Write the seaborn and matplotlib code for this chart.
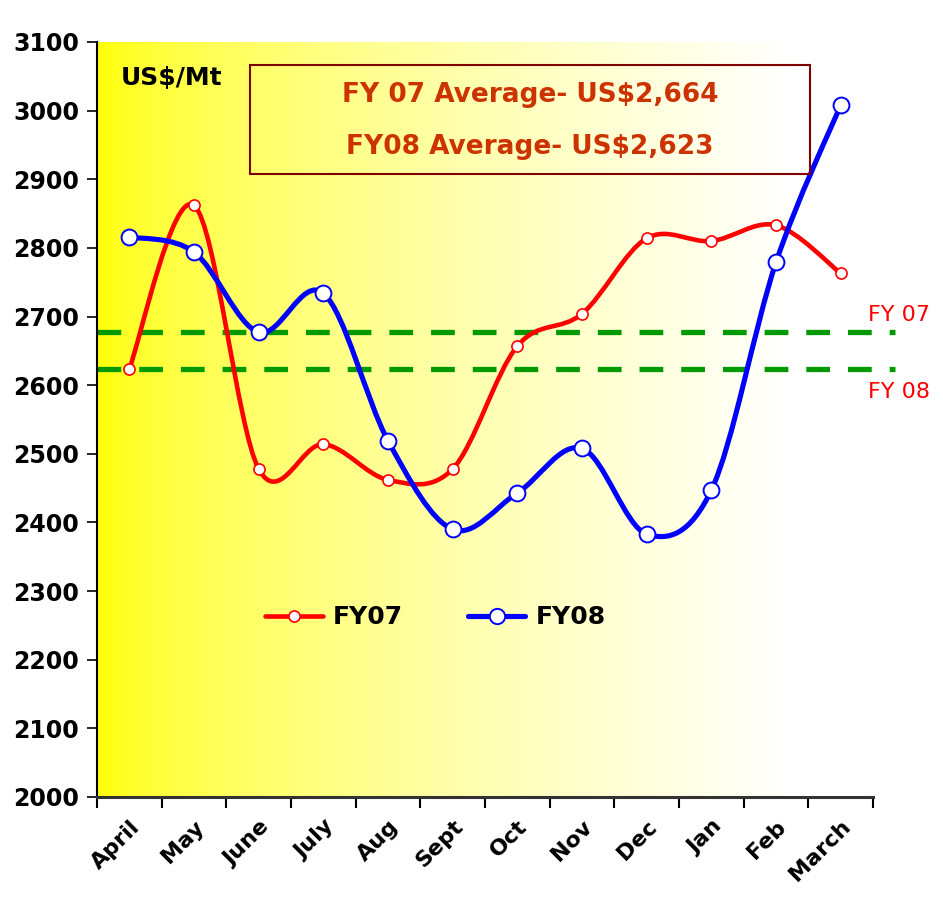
import numpy as np
import matplotlib
matplotlib.use("Agg")
import matplotlib.pyplot as plt
import seaborn as sns
import pandas as pd
from matplotlib.path import Path
from matplotlib.patches import PathPatch, Rectangle
from matplotlib.lines import Line2D

months = ['April', 'May', 'June', 'July', 'Aug', 'Sept', 'Oct', 'Nov', 'Dec', 'Jan', 'Feb', 'March']
fy07 = [2624, 2862, 2478, 2514, 2462, 2478, 2657, 2704, 2814, 2810, 2833, 2763]
fy08 = [2816, 2794, 2677, 2734, 2519, 2390, 2443, 2508, 2383, 2447, 2779, 3008]
avg_line_07 = 2678
avg_line_08 = 2623
yticks = list(range(2000, 3101, 100))

RED = '#FF0000'
BLUE = '#0000FF'
GREEN = '#009900'


def smooth_path(xs, ys):
    # excel-like smoothed line: cubic bezier segments through every point
    pts = np.column_stack([xs, ys]).astype(float)
    n = len(pts)
    verts = [pts[0]]
    codes = [Path.MOVETO]
    for i in range(n - 1):
        p_prev = pts[i - 1] if i > 0 else pts[i]
        p_next2 = pts[i + 2] if i + 2 < n else pts[i + 1]
        c1 = pts[i] + (pts[i + 1] - p_prev) / 6.0
        c2 = pts[i + 1] - (p_next2 - pts[i]) / 6.0
        verts += [c1, c2, pts[i + 1]]
        codes += [Path.CURVE4] * 3
    return Path(verts, codes)


df = pd.DataFrame({'month': months, 'pos': range(len(months)), 'FY07': fy07, 'FY08': fy08})

sns.set_style('white')
plt.rcParams['font.family'] = ['DejaVu Sans']
plt.rcParams['text.color'] = 'black'
plt.rcParams['xtick.color'] = 'black'
plt.rcParams['ytick.color'] = 'black'

fig = plt.figure(figsize=(9.43, 9.09), dpi=100)
ax = fig.add_axes([97 / 943, 1 - 797 / 909, 776 / 943, 755 / 909])

# yellow -> white background
t = np.linspace(0, 1, 400)
b = np.clip(t / 0.9, 0, 1) ** 0.6
grad = np.zeros((1, len(t), 3))
grad[..., 0] = 1
grad[..., 1] = 1
grad[..., 2] = b
ax.imshow(grad, extent=[0, 1, 0, 1], transform=ax.transAxes, aspect='auto', zorder=0)

ax.set_xlim(-0.5, len(months) - 0.5)
ax.set_ylim(2000, 3100)

# average lines
for yv in (avg_line_07, avg_line_08):
    ax.plot([-0.5, 11.84], [yv, yv], color=GREEN, lw=3.8, dashes=(4.5, 3.4), clip_on=False, zorder=2)

ax.add_patch(PathPatch(smooth_path(df['pos'], df['FY07']), facecolor='none', edgecolor=RED, lw=3.3, zorder=3,
                       capstyle='round', joinstyle='round'))
ax.add_patch(PathPatch(smooth_path(df['pos'], df['FY08']), facecolor='none', edgecolor=BLUE, lw=3.7, zorder=4,
                       capstyle='round', joinstyle='round'))

sns.scatterplot(data=df, x='pos', y='FY07', ax=ax, s=64, color='white', edgecolor=RED, linewidth=1.2, zorder=5)
sns.scatterplot(data=df, x='pos', y='FY08', ax=ax, s=130, color='white', edgecolor=BLUE, linewidth=1.4, zorder=6)

# axes styling
ax.set_xticks(range(len(months)))
ax.set_xticklabels(months, rotation=45, ha='right', rotation_mode='anchor', fontsize=16, fontweight='bold')
ax.set_xticks(np.arange(-0.5, len(months)), minor=True)
ax.tick_params(axis='x', which='major', length=0, pad=14)
ax.tick_params(axis='x', which='minor', length=8, width=1.5, direction='out', bottom=True)
ax.set_yticks(yticks)
ax.set_yticklabels([str(v) for v in yticks], fontsize=17, fontweight='bold')
ax.tick_params(axis='y', length=7, width=1.2, direction='out', left=True, pad=6)
ax.set_xlabel('')
ax.set_ylabel('')
for side in ('top', 'right'):
    ax.spines[side].set_visible(False)
ax.spines['left'].set_color('black')
ax.spines['left'].set_linewidth(1.5)
ax.spines['bottom'].set_color('#333333')
ax.spines['bottom'].set_linewidth(2.2)

# annotations
ax.text(0.03, 0.952, 'US$/Mt', transform=ax.transAxes, fontsize=18, fontweight='bold', va='center', ha='left')
ax.add_patch(Rectangle((0.197, 0.825), 0.722, 0.1445, transform=ax.transAxes, facecolor='none',
                       edgecolor='#800000', lw=1.5, zorder=7))
ax.text(0.558, 0.930, 'FY 07 Average- US$2,664', transform=ax.transAxes, fontsize=19, fontweight='bold',
        color='#CC3300', ha='center', va='center', zorder=8)
ax.text(0.558, 0.861, 'FY08 Average- US$2,623', transform=ax.transAxes, fontsize=19, fontweight='bold',
        color='#CC3300', ha='center', va='center', zorder=8)
ax.text(11.42, avg_line_07 + 24, 'FY 07', color=RED, fontsize=16, ha='left', va='center', clip_on=False)
ax.text(11.42, avg_line_08 - 33, 'FY 08', color=RED, fontsize=16, ha='left', va='center', clip_on=False)

handles = [Line2D([], [], color=RED, lw=3.3, marker='o', ms=8, mfc='white', mec=RED, mew=1.2),
           Line2D([], [], color=BLUE, lw=3.7, marker='o', ms=11, mfc='white', mec=BLUE, mew=1.4)]
leg = ax.legend(handles, ['FY07', 'FY08'], loc='center', bbox_to_anchor=(0.436, 0.238), ncol=2, frameon=False,
                prop={'size': 18, 'weight': 'bold'}, handlelength=2.3, handletextpad=0.4, columnspacing=2.6)

fig.savefig('out.png', dpi=100)
